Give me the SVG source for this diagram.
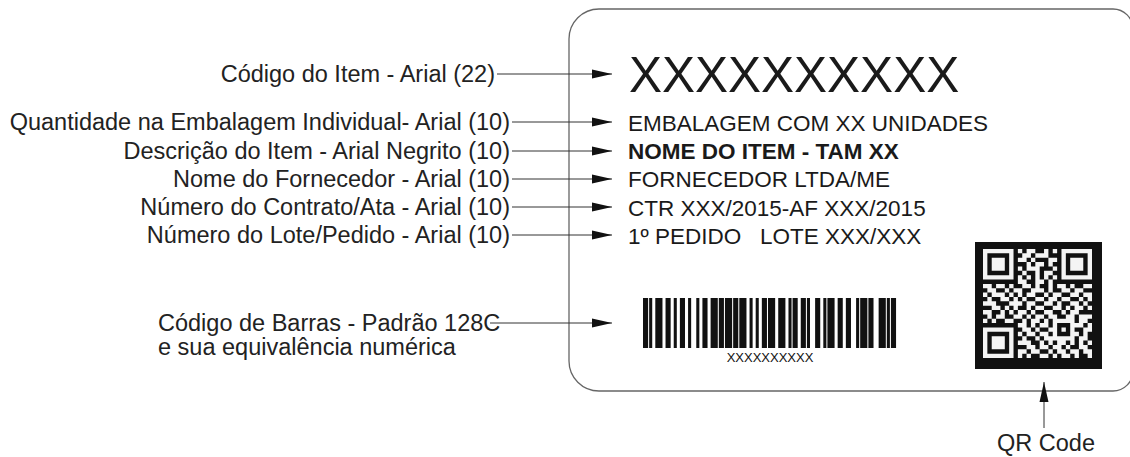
<svg xmlns="http://www.w3.org/2000/svg" width="1130" height="457" viewBox="0 0 1130 457">
<style>
.lbl{font-family:"Liberation Sans",Arial,sans-serif;font-size:23.5px;fill:#222}
.txt{font-family:"Liberation Sans",Arial,sans-serif;font-size:22.5px;fill:#1a1a1a}
.con{stroke:#333;stroke-width:1;fill:none}
</style>
<defs>
<marker id="ah" viewBox="0 0 20 10" refX="20" refY="5" markerWidth="20" markerHeight="10" markerUnits="userSpaceOnUse" orient="auto">
<path d="M0 0.5L20 5L0 9.5z" fill="#111"/>
</marker>
</defs>
<rect width="1130" height="457" fill="#fff"/>

<g id="card">
<path d="M569 39A30 30 0 0 1 599 9H1113A20 20 0 0 1 1133 29V371A20 20 0 0 1 1113 391H599A30 30 0 0 1 569 361Z" fill="none" stroke="#666" stroke-width="1.3"/>
</g>

<g id="labels">
<g id="lbl-codigo"><text class="lbl" x="495" y="82" text-anchor="end">Código do Item - Arial (22)</text></g>
<g id="lbl-quantidade"><text class="lbl" x="510" y="130" text-anchor="end">Quantidade na Embalagem Individual- Arial (10)</text></g>
<g id="lbl-descricao"><text class="lbl" x="510" y="159" text-anchor="end">Descrição do Item - Arial Negrito (10)</text></g>
<g id="lbl-fornecedor"><text class="lbl" x="510" y="187" text-anchor="end">Nome do Fornecedor - Arial (10)</text></g>
<g id="lbl-contrato"><text class="lbl" x="510" y="215" text-anchor="end">Número do Contrato/Ata - Arial (10)</text></g>
<g id="lbl-lote"><text class="lbl" x="510" y="243" text-anchor="end">Número do Lote/Pedido - Arial (10)</text></g>
<g id="lbl-barras"><text class="lbl" x="158" y="331" font-size="21.8">Código de Barras - Padrão 128C</text>
<text class="lbl" x="158" y="355" font-size="21.8">e sua equivalência numérica</text></g>
<g id="lbl-qr"><text class="lbl" x="997" y="451" font-size="22">QR Code</text></g>
</g>

<g id="card-content">
<g id="item-code"><text x="629" y="92" font-family="Liberation Sans,Arial,sans-serif" font-size="49.5" fill="#1a1a1a">XXXXXXXXXX</text></g>
<g id="embalagem"><text class="txt" x="628" y="131">EMBALAGEM COM XX UNIDADES</text></g>
<g id="nome"><text class="txt" x="628" y="159" font-weight="bold">NOME DO ITEM - TAM XX</text></g>
<g id="fornecedor"><text class="txt" x="628" y="187">FORNECEDOR LTDA/ME</text></g>
<g id="contrato"><text class="txt" x="628" y="216">CTR XXX/2015-AF XXX/2015</text></g>
<g id="pedido"><text class="txt" x="628" y="244" xml:space="preserve">1º PEDIDO   LOTE XXX/XXX</text></g>
<g id="barcode">
<path transform="translate(643,298) scale(2.049,1)" fill="#111" d="M0 0h2.5v50h-2.5zM3 0h1.5v50h-1.5zM6 0h3.5v50h-3.5zM11 0h2.5v50h-2.5zM15 0h1.5v50h-1.5zM18 0h2.5v50h-2.5zM22 0h1.5v50h-1.5zM26 0h1.5v50h-1.5zM29 0h2.5v50h-2.5zM33 0h3.5v50h-3.5zM37 0h2.5v50h-2.5zM40 0h3.5v50h-3.5zM44 0h2.5v50h-2.5zM47 0h3.5v50h-3.5zM52 0h1.5v50h-1.5zM55 0h1.5v50h-1.5zM58 0h2.5v50h-2.5zM61 0h3.5v50h-3.5zM66 0h3.5v50h-3.5zM71 0h1.5v50h-1.5zM73 0h2.5v50h-2.5zM77 0h2.5v50h-2.5zM80 0h1.5v50h-1.5zM84 0h2.5v50h-2.5zM88 0h1.5v50h-1.5zM90 0h3.5v50h-3.5zM95 0h2.5v50h-2.5zM99 0h2.5v50h-2.5zM104 0h1.5v50h-1.5zM106 0h3.5v50h-3.5zM110 0h2.5v50h-2.5zM115 0h3.5v50h-3.5zM119 0h1.5v50h-1.5zM121 0h2.5v50h-2.5z"/>
<text x="770" y="362" text-anchor="middle" font-family="Liberation Sans,Arial,sans-serif" font-size="13" fill="#111">XXXXXXXXXX</text>
</g>
<g id="qrcode">
<rect x="975" y="242" width="127" height="127" fill="#111"/>
<path transform="translate(983,249) scale(4.36)" fill="#f4f4f4" d="M0 0h7v1h-7zM8 0h1v1h-1zM10 0h2v1h-2zM14 0h1v1h-1zM16 0h1v1h-1zM18 0h7v1h-7zM0 1h1v1h-1zM6 1h1v1h-1zM9 1h2v1h-2zM12 1h3v1h-3zM18 1h1v1h-1zM24 1h1v1h-1zM0 2h1v1h-1zM2 2h3v1h-3zM6 2h1v1h-1zM8 2h2v1h-2zM11 2h1v1h-1zM15 2h2v1h-2zM18 2h1v1h-1zM20 2h3v1h-3zM24 2h1v1h-1zM0 3h1v1h-1zM2 3h3v1h-3zM6 3h1v1h-1zM10 3h1v1h-1zM12 3h2v1h-2zM15 3h1v1h-1zM18 3h1v1h-1zM20 3h3v1h-3zM24 3h1v1h-1zM0 4h1v1h-1zM2 4h3v1h-3zM6 4h1v1h-1zM8 4h1v1h-1zM10 4h3v1h-3zM16 4h1v1h-1zM18 4h1v1h-1zM20 4h3v1h-3zM24 4h1v1h-1zM0 5h1v1h-1zM6 5h1v1h-1zM9 5h1v1h-1zM12 5h1v1h-1zM14 5h2v1h-2zM18 5h1v1h-1zM24 5h1v1h-1zM0 6h7v1h-7zM8 6h1v1h-1zM10 6h1v1h-1zM12 6h1v1h-1zM14 6h1v1h-1zM16 6h1v1h-1zM18 6h7v1h-7zM8 7h2v1h-2zM12 7h2v1h-2zM15 7h1v1h-1zM0 8h2v1h-2zM3 8h2v1h-2zM6 8h1v1h-1zM9 8h2v1h-2zM12 8h1v1h-1zM15 8h1v1h-1zM17 8h2v1h-2zM20 8h1v1h-1zM23 8h2v1h-2zM1 9h2v1h-2zM5 9h1v1h-1zM7 9h2v1h-2zM11 9h3v1h-3zM15 9h1v1h-1zM18 9h2v1h-2zM21 9h2v1h-2zM0 10h1v1h-1zM2 10h3v1h-3zM6 10h1v1h-1zM8 10h1v1h-1zM10 10h2v1h-2zM14 10h1v1h-1zM16 10h2v1h-2zM20 10h2v1h-2zM23 10h2v1h-2zM1 11h1v1h-1zM4 11h2v1h-2zM7 11h1v1h-1zM9 11h1v1h-1zM12 11h2v1h-2zM15 11h2v1h-2zM18 11h2v1h-2zM22 11h1v1h-1zM24 11h1v1h-1zM0 12h3v1h-3zM6 12h3v1h-3zM10 12h2v1h-2zM14 12h2v1h-2zM17 12h1v1h-1zM20 12h2v1h-2zM23 12h1v1h-1zM2 13h2v1h-2zM5 13h1v1h-1zM7 13h1v1h-1zM10 13h1v1h-1zM12 13h2v1h-2zM16 13h2v1h-2zM19 13h1v1h-1zM21 13h2v1h-2zM24 13h1v1h-1zM0 14h2v1h-2zM4 14h1v1h-1zM6 14h1v1h-1zM8 14h2v1h-2zM11 14h1v1h-1zM14 14h2v1h-2zM18 14h1v1h-1zM20 14h2v1h-2zM1 15h1v1h-1zM3 15h2v1h-2zM7 15h2v1h-2zM10 15h1v1h-1zM12 15h2v1h-2zM15 15h2v1h-2zM19 15h2v1h-2zM22 15h3v1h-3zM0 16h1v1h-1zM2 16h1v1h-1zM5 16h2v1h-2zM9 16h1v1h-1zM11 16h2v1h-2zM14 16h1v1h-1zM16 16h5v1h-5zM22 16h2v1h-2zM8 17h2v1h-2zM11 17h1v1h-1zM13 17h2v1h-2zM16 17h1v1h-1zM20 17h3v1h-3zM24 17h1v1h-1zM0 18h7v1h-7zM9 18h2v1h-2zM12 18h1v1h-1zM15 18h2v1h-2zM18 18h1v1h-1zM20 18h1v1h-1zM23 18h2v1h-2zM0 19h1v1h-1zM6 19h1v1h-1zM8 19h1v1h-1zM10 19h2v1h-2zM13 19h2v1h-2zM16 19h1v1h-1zM20 19h2v1h-2zM23 19h1v1h-1zM0 20h1v1h-1zM2 20h3v1h-3zM6 20h1v1h-1zM9 20h1v1h-1zM12 20h1v1h-1zM14 20h7v1h-7zM22 20h2v1h-2zM0 21h1v1h-1zM2 21h3v1h-3zM6 21h1v1h-1zM8 21h3v1h-3zM13 21h1v1h-1zM15 21h1v1h-1zM17 21h2v1h-2zM20 21h1v1h-1zM22 21h1v1h-1zM24 21h1v1h-1zM0 22h1v1h-1zM2 22h3v1h-3zM6 22h1v1h-1zM10 22h2v1h-2zM13 22h2v1h-2zM16 22h2v1h-2zM19 22h1v1h-1zM22 22h2v1h-2zM0 23h1v1h-1zM6 23h1v1h-1zM8 23h2v1h-2zM11 23h2v1h-2zM15 23h1v1h-1zM17 23h2v1h-2zM20 23h2v1h-2zM23 23h2v1h-2zM0 24h7v1h-7zM8 24h1v1h-1zM10 24h1v1h-1zM13 24h2v1h-2zM16 24h1v1h-1zM18 24h2v1h-2zM21 24h1v1h-1zM24 24h1v1h-1z"/>
</g>
</g>

<g id="connectors">
<line class="con" x1="497" y1="74" x2="612" y2="74" marker-end="url(#ah)"/>
<line class="con" x1="512" y1="122" x2="612" y2="122" marker-end="url(#ah)"/>
<line class="con" x1="512" y1="151" x2="612" y2="151" marker-end="url(#ah)"/>
<line class="con" x1="512" y1="179" x2="612" y2="179" marker-end="url(#ah)"/>
<line class="con" x1="512" y1="207" x2="612" y2="207" marker-end="url(#ah)"/>
<line class="con" x1="512" y1="235" x2="612" y2="235" marker-end="url(#ah)"/>
<line class="con" x1="490" y1="323" x2="612" y2="323" marker-end="url(#ah)"/>
<line class="con" x1="1044" y1="428" x2="1044" y2="382" marker-end="url(#ah)"/>
</g>
</svg>
